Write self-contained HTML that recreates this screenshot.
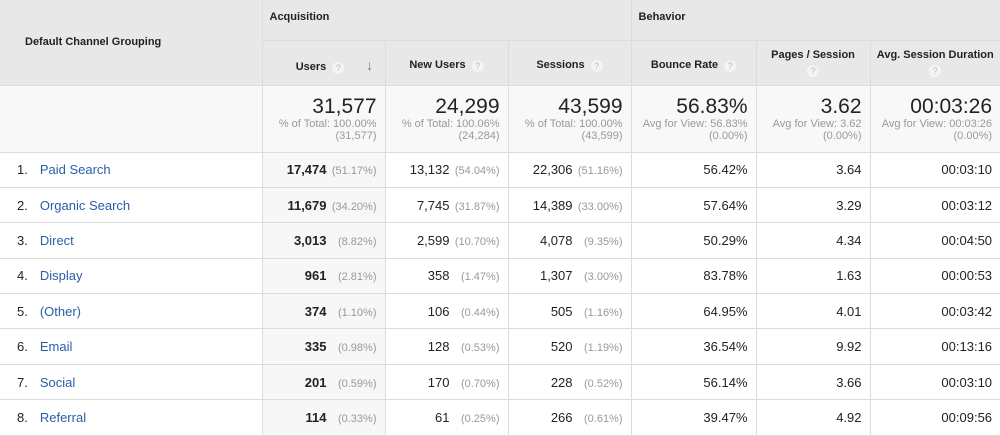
<!DOCTYPE html>
<html><head><style>
body{margin:0;width:1000px;height:436px;overflow:hidden;background:#fff;font-family:"Liberation Sans",Arial,sans-serif;}
table{border-collapse:collapse;table-layout:fixed;width:1000px;}
td,th{border:1px solid #dcdcdc;padding:0;}
th{background:#e8e8e8;font-size:11px;font-weight:bold;color:#222;}
.q{display:inline-block;width:12px;height:12px;border-radius:50%;background:#f4f4f4;color:#bbb;font-size:9px;line-height:12px;text-align:center;font-weight:normal;vertical-align:middle;margin-left:6px;}
.tot td{background:#f8f8f8;text-align:right;padding-right:8px;vertical-align:top;}
.big{font-size:21px;color:#222;margin-top:10px;line-height:22px;}
.sm{font-size:11px;color:#999;line-height:12px;}
.row td{height:34.4px;font-size:13px;color:#222;text-align:right;padding-right:8px;}
.row td.n{text-align:left;padding-left:17px;}
.n a{color:#2a5ea8;margin-left:12px;text-decoration:none;}
.p{display:inline-block;width:50px;font-size:11px;color:#999;text-align:right;}
.row td.u{background:#f7f7f7;font-weight:bold;}
.row td.u .p{font-weight:normal;}
tr td:first-child,tr th:first-child{border-left:none;}
tr td:last-child,tr th:last-child{border-right:none;}
</style></head><body>
<table>
<colgroup><col style="width:262px"><col style="width:123px"><col style="width:123px"><col style="width:123px"><col style="width:125px"><col style="width:114px"><col style="width:130px"></colgroup>
<tr style="height:40px"><th rowspan="2" style="text-align:left;padding-left:25px;border-top:none">Default Channel Grouping</th><th colspan="3" style="text-align:left;padding-left:7px;border-top:none;vertical-align:top;padding-top:11px">Acquisition</th><th colspan="3" style="text-align:left;padding-left:7px;border-top:none;vertical-align:top;padding-top:11px">Behavior</th></tr>
<tr style="height:45px">
<th style="padding-top:6px">Users<span class="q">?</span><span style="position:relative;left:22px;color:#777;font-size:14px">↓</span></th>
<th style="padding-top:6px">New Users<span class="q">?</span></th>
<th style="padding-top:6px">Sessions<span class="q">?</span></th>
<th style="padding-top:6px">Bounce Rate<span class="q">?</span></th>
<th>Pages / Session<br><span class="q" style="margin:4px 0 0">?</span></th>
<th>Avg. Session Duration<br><span class="q" style="margin:4px 0 0">?</span></th></tr>
<tr class="tot" style="height:67px"><td></td>
<td><div class="big">31,577</div><div class="sm">% of Total: 100.00%<br>(31,577)</div></td>
<td><div class="big">24,299</div><div class="sm">% of Total: 100.06%<br>(24,284)</div></td>
<td><div class="big">43,599</div><div class="sm">% of Total: 100.00%<br>(43,599)</div></td>
<td><div class="big">56.83%</div><div class="sm">Avg for View: 56.83%<br>(0.00%)</div></td>
<td><div class="big">3.62</div><div class="sm">Avg for View: 3.62<br>(0.00%)</div></td>
<td><div class="big">00:03:26</div><div class="sm">Avg for View: 00:03:26<br>(0.00%)</div></td></tr>
<tr class="row"><td class="n">1.<a>Paid Search</a></td><td class="u">17,474<span class="p">(51.17%)</span></td><td>13,132<span class="p">(54.04%)</span></td><td>22,306<span class="p">(51.16%)</span></td><td>56.42%</td><td>3.64</td><td>00:03:10</td></tr>
<tr class="row"><td class="n">2.<a>Organic Search</a></td><td class="u">11,679<span class="p">(34.20%)</span></td><td>7,745<span class="p">(31.87%)</span></td><td>14,389<span class="p">(33.00%)</span></td><td>57.64%</td><td>3.29</td><td>00:03:12</td></tr>
<tr class="row"><td class="n">3.<a>Direct</a></td><td class="u">3,013<span class="p">(8.82%)</span></td><td>2,599<span class="p">(10.70%)</span></td><td>4,078<span class="p">(9.35%)</span></td><td>50.29%</td><td>4.34</td><td>00:04:50</td></tr>
<tr class="row"><td class="n">4.<a>Display</a></td><td class="u">961<span class="p">(2.81%)</span></td><td>358<span class="p">(1.47%)</span></td><td>1,307<span class="p">(3.00%)</span></td><td>83.78%</td><td>1.63</td><td>00:00:53</td></tr>
<tr class="row"><td class="n">5.<a>(Other)</a></td><td class="u">374<span class="p">(1.10%)</span></td><td>106<span class="p">(0.44%)</span></td><td>505<span class="p">(1.16%)</span></td><td>64.95%</td><td>4.01</td><td>00:03:42</td></tr>
<tr class="row"><td class="n">6.<a>Email</a></td><td class="u">335<span class="p">(0.98%)</span></td><td>128<span class="p">(0.53%)</span></td><td>520<span class="p">(1.19%)</span></td><td>36.54%</td><td>9.92</td><td>00:13:16</td></tr>
<tr class="row"><td class="n">7.<a>Social</a></td><td class="u">201<span class="p">(0.59%)</span></td><td>170<span class="p">(0.70%)</span></td><td>228<span class="p">(0.52%)</span></td><td>56.14%</td><td>3.66</td><td>00:03:10</td></tr>
<tr class="row"><td class="n">8.<a>Referral</a></td><td class="u">114<span class="p">(0.33%)</span></td><td>61<span class="p">(0.25%)</span></td><td>266<span class="p">(0.61%)</span></td><td>39.47%</td><td>4.92</td><td>00:09:56</td></tr>
</table>
</body></html>
